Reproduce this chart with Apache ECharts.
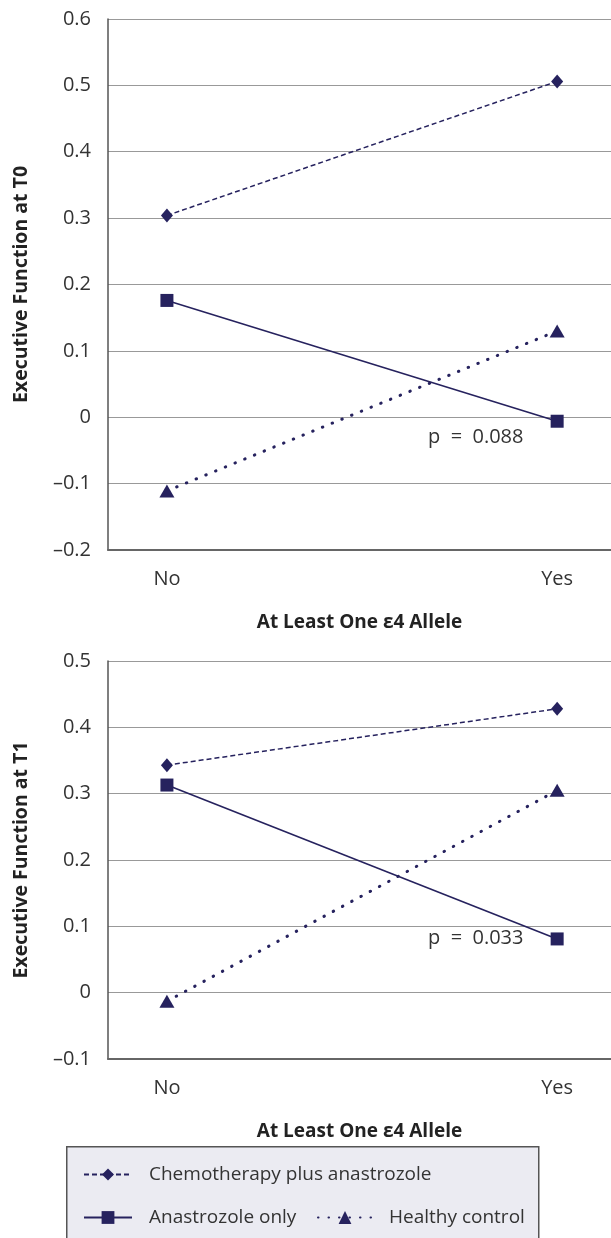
<!DOCTYPE html>
<html>
<head>
<meta charset="utf-8">
<script src="https://cdn.jsdelivr.net/npm/echarts@6/dist/echarts.min.js"></script>
<style>
  html, body { margin: 0; padding: 0; background: #fff; }
  #chart { width: 611px; height: 1238px; }
</style>
</head>
<body>
<div id="chart"></div>
<script>
// data
var groups = ['No', 'Yes']
var seriesNames = ['Chemotherapy plus anastrozole', 'Anastrozole only', 'Healthy control']
var chemoT0 = [0.304, 0.506]
var anaT0 = [0.176, -0.006]
var healthyT0 = [-0.111, 0.130]
var chemoT1 = [0.343, 0.428]
var anaT1 = [0.313, 0.081]
var healthyT1 = [-0.013, 0.305]
var yTitles = ['Executive Function at T0', 'Executive Function at T1']
var xTitle = 'At Least One \u03b54 Allele'
var pLabels = ['p  =  0.088', 'p  =  0.033']

var navy = '#26225e'
var font = '"Open Sans", "DejaVu Sans", sans-serif'

function pts(vals) {
  return vals.map(function (v, i) { return [i, v] })
}

function makeSeries(idx, chemo, ana, healthy) {
  return [
    {
      name: seriesNames[0], type: 'line', xAxisIndex: idx, yAxisIndex: idx,
      data: pts(chemo), symbol: 'diamond', symbolSize: [12, 14],
      itemStyle: { color: navy },
      lineStyle: { color: navy, width: 1.5, type: [5, 3] }
    },
    {
      name: seriesNames[1], type: 'line', xAxisIndex: idx, yAxisIndex: idx,
      data: pts(ana), symbol: 'rect', symbolSize: 13,
      itemStyle: { color: navy },
      lineStyle: { color: navy, width: 1.6 }
    },
    {
      name: seriesNames[2], type: 'line', xAxisIndex: idx, yAxisIndex: idx,
      data: pts(healthy), symbol: 'triangle', symbolSize: [15, 13],
      itemStyle: { color: navy },
      lineStyle: { color: navy, width: 3, type: [0.5, 10], cap: 'round' }
    }
  ]
}

function xAxisCfg(idx) {
  return {
    type: 'value', gridIndex: idx, min: -0.151, max: 1.138,
    name: xTitle, nameLocation: 'middle', nameGap: 63,
    nameTextStyle: { fontFamily: font, fontWeight: 'bold', fontSize: 19, color: '#222' },
    axisLine: { show: true, onZero: false, lineStyle: { color: '#666', width: 2 } },
    axisTick: { show: false },
    splitLine: { show: false },
    axisLabel: {
      customValues: [0, 1], margin: 19,
      fontFamily: font, fontSize: 20, color: '#333',
      formatter: function (v) { return groups[Math.round(v)] }
    }
  }
}

function yAxisCfg(idx, min, max) {
  return {
    type: 'value', gridIndex: idx, min: min, max: max, interval: 0.1,
    name: yTitles[idx], nameLocation: 'middle', nameGap: 77,
    nameTextStyle: { fontFamily: font, fontWeight: 'bold', fontSize: 19.5, color: '#222' },
    axisLine: { show: true, onZero: false, lineStyle: { color: '#555', width: 1.5 } },
    axisTick: { show: false },
    splitLine: { lineStyle: { color: '#999', width: 1.2 } },
    axisLabel: {
      margin: 17, fontFamily: font, fontSize: 20, color: '#333',
      formatter: function (v) {
        var s = (Math.round(v * 10) / 10).toString()
        if (s === '0') return '0'
        return s.replace('-', '\u2013')
      }
    }
  }
}

var legendText = { fontFamily: font, fontSize: 19, color: '#333', padding: [0, 0, 0, 12] }

var chart = echarts.init(document.getElementById('chart'))

var option = {
  animation: false,
  backgroundColor: '#fff',
  grid: [
    { left: 108, right: 0, top: 19, height: 531 },
    { left: 108, right: 0, top: 661, height: 398 }
  ],
  xAxis: [xAxisCfg(0), xAxisCfg(1)],
  yAxis: [yAxisCfg(0, -0.2, 0.6), yAxisCfg(1, -0.1, 0.5)],
  legend: [
    {
      data: [seriesNames[0]], left: 78, top: 1160, itemWidth: 48, itemHeight: 15,
      textStyle: legendText
    },
    {
      data: [seriesNames[1]], left: 78, top: 1203, itemWidth: 48, itemHeight: 16,
      textStyle: legendText
    },
    {
      data: [seriesNames[2]], left: 312, top: 1203, itemWidth: 54, itemHeight: 16,
      textStyle: legendText
    }
  ],
  graphic: [
    {
      type: 'rect', left: 66, top: 1146, z: -1,
      shape: { width: 472, height: 100 },
      style: { fill: '#ebebf2', stroke: '#555', lineWidth: 1.5 }
    },
    {
      type: 'text', left: 428, top: 427,
      style: { text: pLabels[0], font: '20px ' + font, fill: '#333' }
    },
    {
      type: 'text', left: 428, top: 928,
      style: { text: pLabels[1], font: '20px ' + font, fill: '#333' }
    }
  ],
  series: makeSeries(0, chemoT0, anaT0, healthyT0).concat(makeSeries(1, chemoT1, anaT1, healthyT1))
}

chart.setOption(option)
</script>
</body>
</html>
